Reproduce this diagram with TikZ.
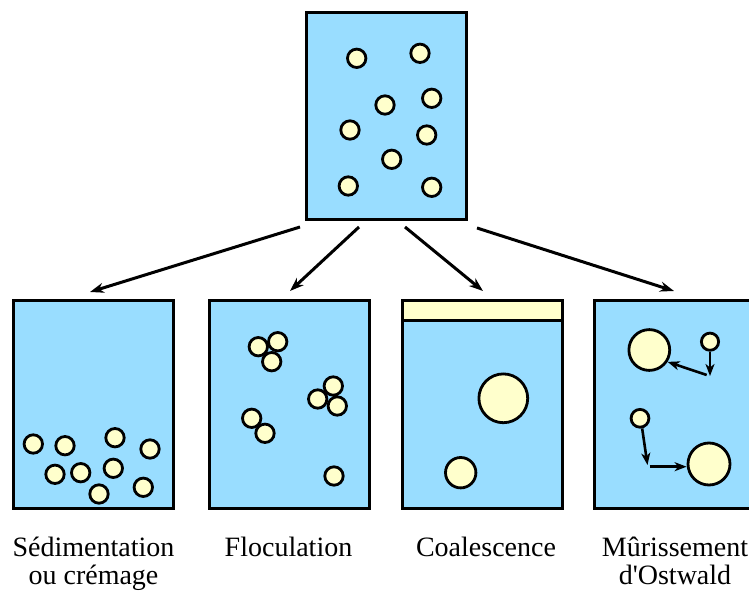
\documentclass[tikz,border=0pt]{standalone}
\usepackage{fontspec}
\setmainfont{Liberation Serif}
\usetikzlibrary{arrows.meta}
\definecolor{water}{RGB}{153,221,255}
\definecolor{oil}{RGB}{255,255,204}
\begin{document}
\begin{tikzpicture}[x=1pt,y=-1pt,
  box/.style={draw=black,line width=3pt,fill=water,rectangle,minimum width=160pt,minimum height=208pt,inner sep=0pt},
  drop/.style={draw=black,line width=2.8pt,fill=oil,circle,inner sep=0pt,minimum size=#1},
  drop/.default=18.4pt,
  link/.style={line width=3pt,-{Stealth[length=14pt,width=10pt,inset=4.5pt]}},
  move/.style={line width=2.6pt,-{Stealth[length=12pt,width=9pt,inset=3.5pt]}},
  lab/.style={font=\fontsize{28}{27.7}\selectfont,align=center,anchor=base,inner sep=0pt}]
\useasboundingbox (0,0) rectangle (749,591);
\clip (0,0) rectangle (749,591);
% boxes
\node[box,minimum height=207pt] (top) at (386.4,116.2) {};
\node[box] (b1) at (93.7,404.5) {};
\node[box] (b2) at (289.2,404.5) {};
\node[box] (b3) at (482.3,404.5) {};
\filldraw[fill=oil,draw=black,line width=3pt] ([xshift=1.5pt,yshift=-1.5pt]b3.north west) rectangle ([xshift=-1.5pt,yshift=-21pt]b3.north east);
\node[box] (b4) at (674.5,404.5) {};
% top box drops
\foreach \p [count=\i] in {(356.7,58.3),(420,53.3),(385,105),(431.7,98.3),(350,130),(426.7,135),(391.7,159.3),(348.3,186),(431.7,187.3)}
  \node[drop] (t\i) at \p {};
% sedimentation drops
\foreach \p [count=\i] in {(33.3,444),(65,445.7),(115,437.7),(150,449),(55,474.3),(80.7,472.7),(113.3,468.3),(99,494),(143.3,487.3)}
  \node[drop] (s\i) at \p {};
% flocculation drops
\foreach \p [count=\i] in {(258.3,346.7),(277.7,341.7),(271.7,361.7),(333.3,386),(317.7,399),(337.3,406),(251.7,418.3),(265,433.3),(334,476)}
  \node[drop] (f\i) at \p {};
% coalescence
\node[drop=48.8pt] (cbig) at (503.3,398.3) {};
\node[drop=30.4pt] (csmall) at (460.7,472.7) {};
% ostwald
\node[drop=40.8pt] (m1) at (649.3,350) {};
\node[drop=17.2pt] (n1) at (710,341.7) {};
\node[drop=17.8pt] (n2) at (640,418.3) {};
\node[drop=42pt] (m2) at (709,464) {};
\coordinate (k1) at (710,376);
\coordinate (k2) at (706.7,375);
\coordinate (k3) at (647.5,465);
\coordinate (k4) at (649.5,466.7);
\draw[move] (n1.south) -- (k1);
\draw[move] (k2) -- (m1.-33);
\draw[move] (n2.-78) -- (k3);
\draw[move] (k4) -- (m2.west |- k4);
% main arrows
\coordinate (a1) at (300,227);
\coordinate (a2) at (359,227);
\coordinate (a3) at (405,227);
\coordinate (a4) at (477,228);
\coordinate (e1) at (90,292);
\coordinate (e2) at (290,291);
\coordinate (e3) at (483,291);
\coordinate (e4) at (674,291);
\foreach \i in {1,...,4} \draw[link] (a\i) -- (e\i);
% labels
\node[lab] (l1) at (93.5,584.3) {Sédimentation\\ou crémage};
\node[lab] (l2) at (288.5,556.7) {Floculation};
\node[lab] (l3) at (486,556.7) {Coalescence};
\node[lab] (l4) at (675,584.3) {Mûrissement\\d\textquotesingle Ostwald};
\end{tikzpicture}
\end{document}
